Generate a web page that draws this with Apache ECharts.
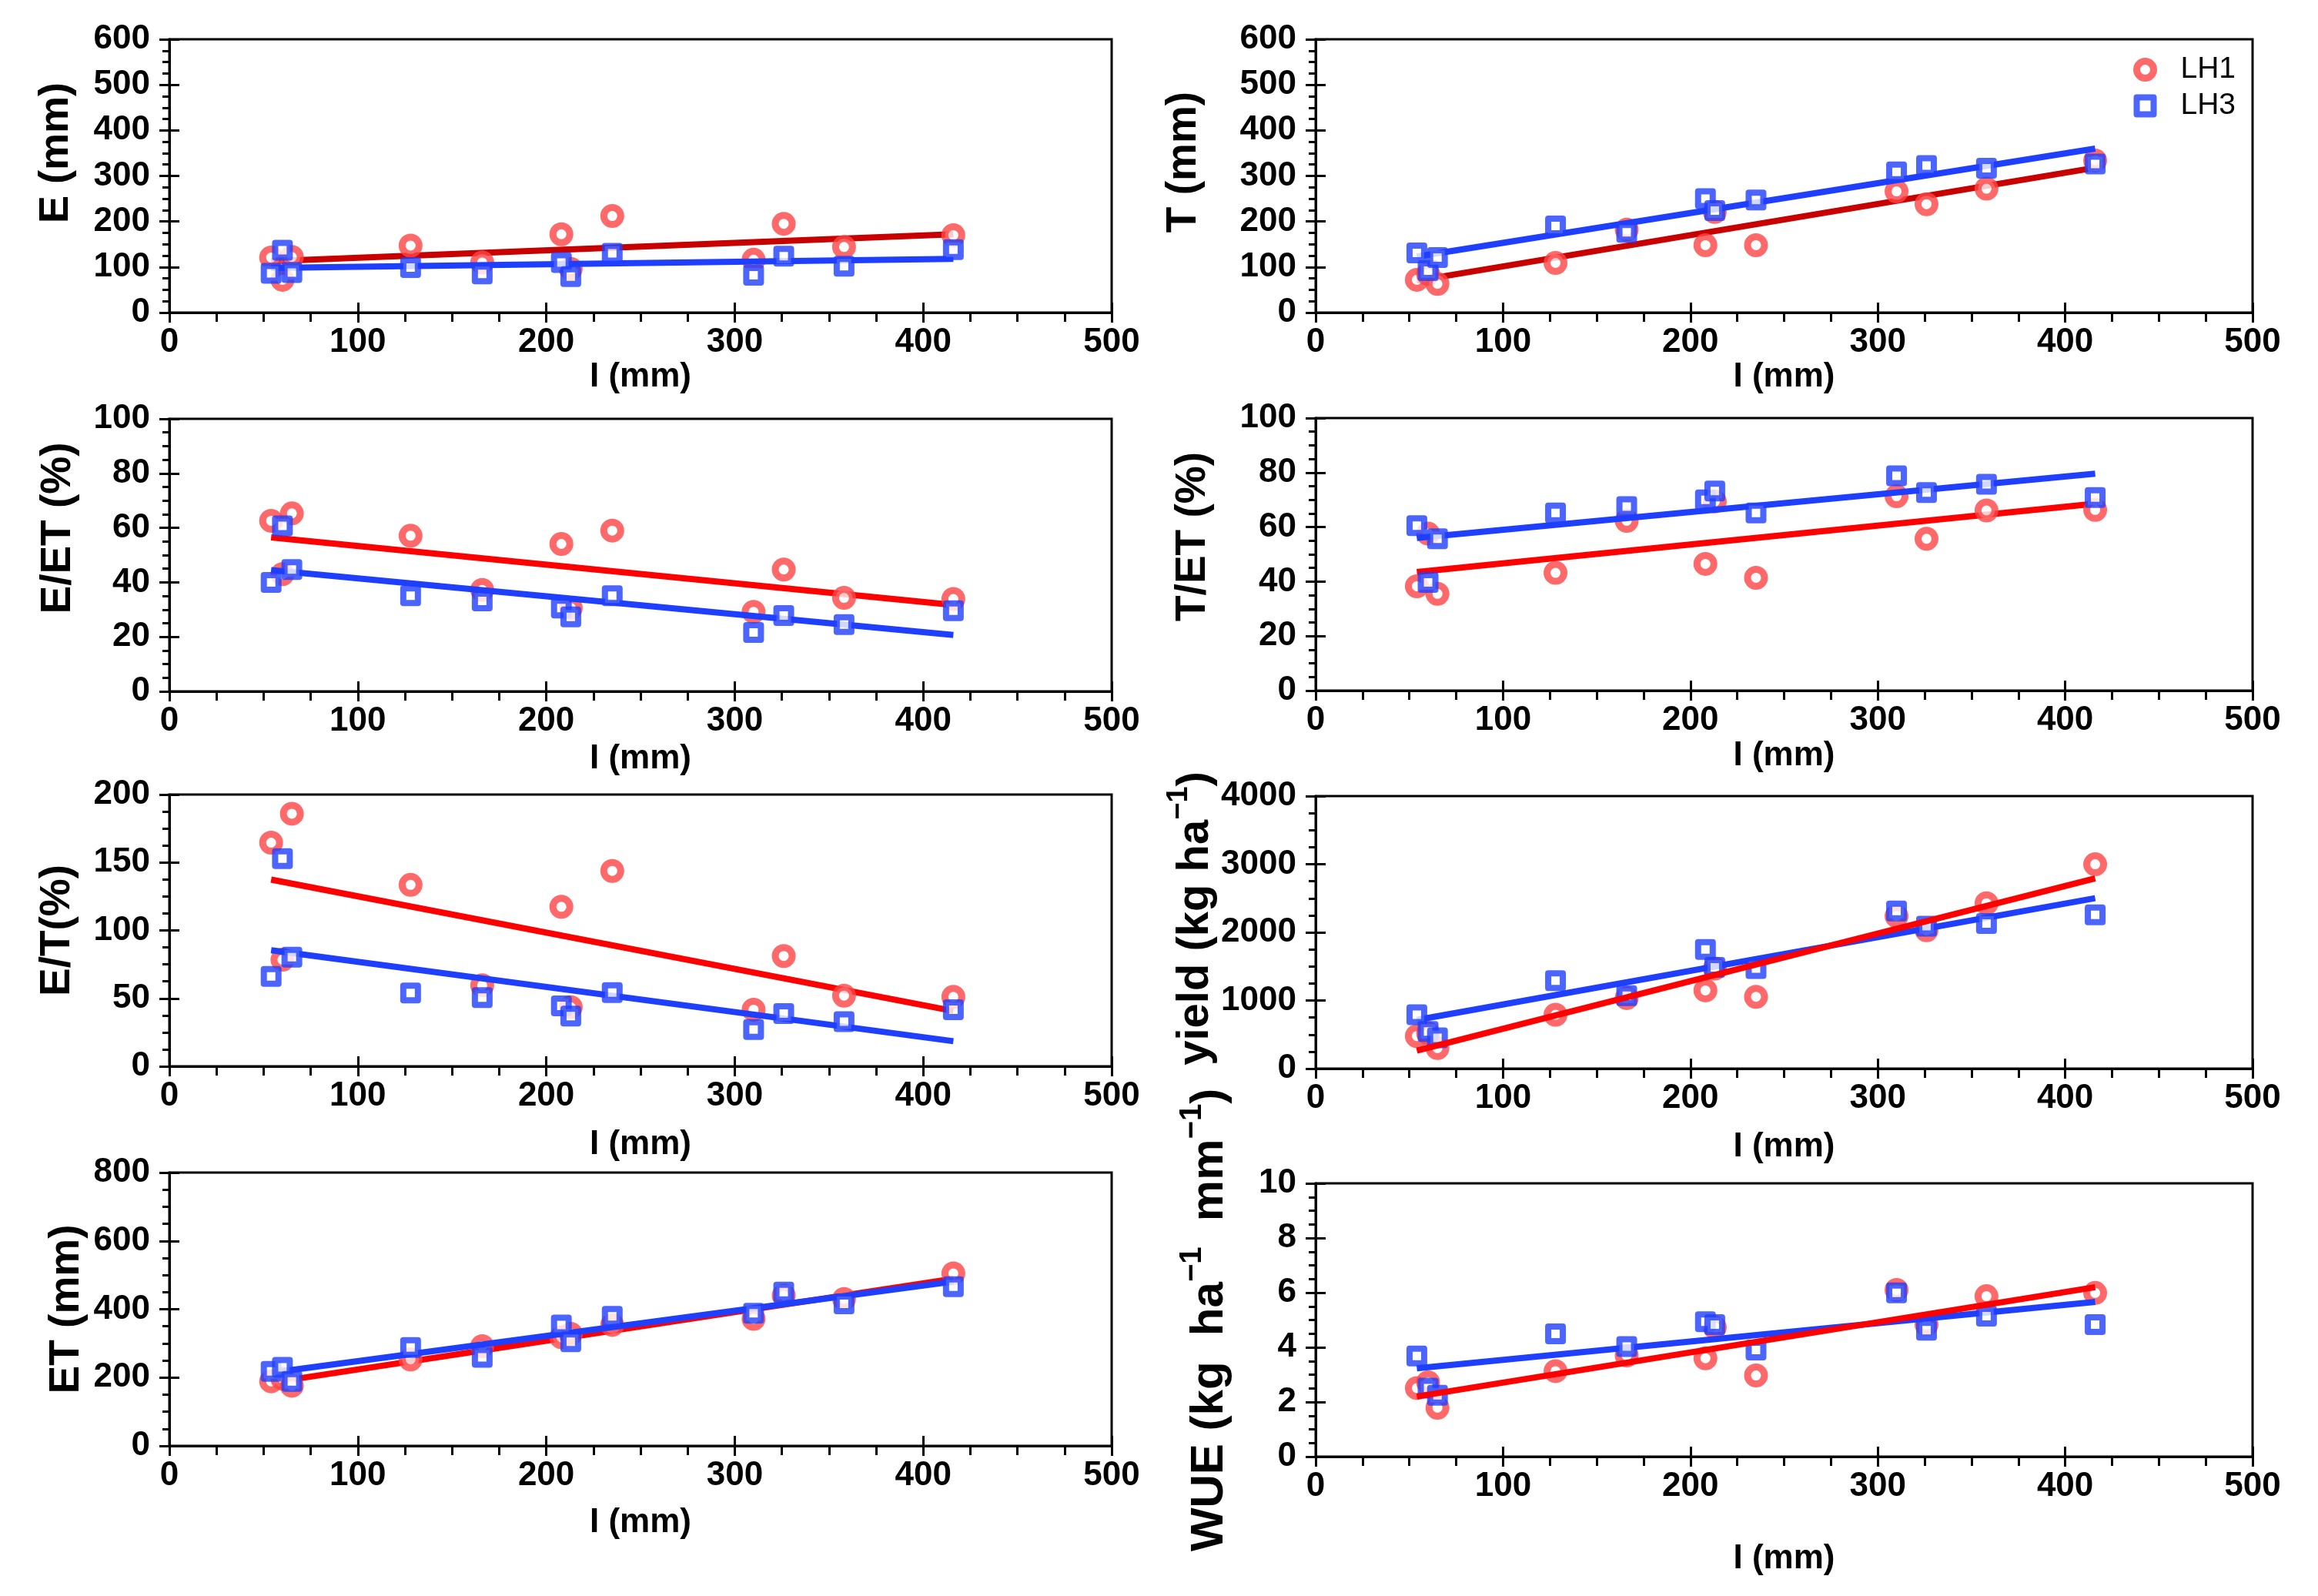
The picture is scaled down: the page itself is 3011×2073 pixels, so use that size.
<!DOCTYPE html>
<html><head><meta charset="utf-8">
<script src="https://cdn.jsdelivr.net/npm/echarts@6/dist/echarts.min.js"></script>
<style>html,body{margin:0;padding:0;background:#fff}#c{width:3011px;height:2073px}</style>
</head><body><div id="c"></div>
<script>
// ---------- data ----------
const irrigation = [54, 60, 65, 128, 166, 208, 213, 235, 310, 326, 358, 416];

const E_LH1 = [121, 72, 122, 147, 110, 172, 96, 212, 116, 195, 144, 170];
const E_LH3 = [86, 137, 88, 99, 85, 110, 79, 130, 82, 124, 102, 138];
const E_FIT_LH1 = [[54, 113], [416, 172]];
const E_FIT_LH3 = [[54, 98], [416, 118]];

const T_LH1 = [72, 85, 63, 109, 182, 148, 221, 148, 266, 238, 272, 334];
const T_LH3 = [131, 92, 121, 190, 176, 250, 224, 247, 309, 323, 317, 326];
const T_FIT_LH1 = [[54, 70], [416, 318]];
const T_FIT_LH3 = [[54, 123], [416, 360]];

const EET_LH1 = [62.6, 43, 65.3, 57.1, 37.2, 54.1, 30.6, 59, 29.2, 44.7, 34.3, 33.9];
const EET_LH3 = [40, 60.7, 44.7, 35.1, 33.2, 30.6, 27.3, 35.1, 21.6, 27.8, 24.5, 29.6];
const EET_FIT_LH1 = [[54, 56.5], [416, 31.7]];
const EET_FIT_LH3 = [[54, 44.5], [416, 20.7]];

const TET_LH1 = [38.3, 57.6, 35.5, 43.2, 62.3, 46.5, 69.4, 41.4, 71.3, 55.7, 66.1, 66.3];
const TET_LH3 = [60.5, 39.7, 55.7, 65.2, 67.5, 70, 73.2, 65.2, 78.8, 72.7, 75.7, 70.8];
const TET_FIT_LH1 = [[54, 43.5], [416, 68.6]];
const TET_FIT_LH3 = [[54, 56], [416, 79.6]];

const ET_RATIO_LH1 = [164.6, 78.4, 185.9, 133.5, 59.6, 117.4, 43.5, 143.8, 41.7, 81.2, 52, 51.1];
const ET_RATIO_LH3 = [66.2, 152.9, 80.3, 53.9, 50.5, 44.5, 36.9, 54.3, 27.1, 38.8, 32.8, 41.7];
const ET_RATIO_FIT_LH1 = [[54, 137.4], [416, 40.7]];
const ET_RATIO_FIT_LH3 = [[54, 85.4], [416, 18.5]];

const YIELD_LH1 = [478, 520, 301, 790, 1035, 1148, 1468, 1054, 2239, 2032, 2427, 2999];
const YIELD_LH3 = [790, 546, 452, 1291, 1072, 1750, 1486, 1468, 2314, 2090, 2130, 2258];
const YIELD_FIT_LH1 = [[54, 263], [416, 2792]];
const YIELD_FIT_LH3 = [[54, 715], [416, 2502]];

const ET_LH1 = [189, 197, 176, 253, 292, 318, 328, 354, 372, 440, 430, 505];
const ET_LH3 = [218, 230, 189, 288, 259, 354, 305, 379, 388, 450, 416, 466];
const ET_FIT_LH1 = [[54, 185], [416, 489]];
const ET_FIT_LH3 = [[54, 214], [416, 481]];

const WUE_LH1 = [2.51, 2.72, 1.79, 3.13, 3.70, 3.60, 4.73, 2.97, 6.10, 4.83, 5.87, 5.99];
const WUE_LH3 = [3.68, 2.51, 2.25, 4.49, 4.03, 4.94, 4.83, 3.90, 5.99, 4.63, 5.14, 4.83];
const WUE_FIT_LH1 = [[54, 2.20], [416, 6.20]];
const WUE_FIT_LH3 = [[54, 3.23], [416, 5.66]];

const X_TITLE = 'I (mm)';
const SERIES_NAMES = ['LH1', 'LH3'];

// ---------- styling ----------
const FONT = '"Liberation Sans", Arial, sans-serif';
const RED_MARK = '#ff4444';
const BLUE = '#1f3fff';
const L = 220, LW = 1224, R = 1709, RW = 1217;

const panels = [
  {title: 'E (mm)', a: E_LH1, b: E_LH3, fa: E_FIT_LH1, fb: E_FIT_LH3, max: 600, iv: 100,
   left: L, width: LW, top: 51, height: 355, gap: 120, shift: 60, xGap: 51, red: '#c80000', fs: 54},
  {title: 'T (mm)', a: T_LH1, b: T_LH3, fa: T_FIT_LH1, fb: T_FIT_LH3, max: 600, iv: 100,
   left: R, width: RW, top: 51, height: 355, gap: 144, shift: 36, xGap: 51, red: '#c80000', fs: 55},
  {title: 'E/ET (%)', a: EET_LH1, b: EET_LH3, fa: EET_FIT_LH1, fb: EET_FIT_LH3, max: 100, iv: 20,
   left: L, width: LW, top: 544, height: 354, gap: 117, shift: 70, xGap: 66, red: '#ff0000', fs: 55},
  {title: 'T/ET (%)', a: TET_LH1, b: TET_LH3, fa: TET_FIT_LH1, fb: TET_FIT_LH3, max: 100, iv: 20,
   left: R, width: RW, top: 543, height: 354, gap: 132, shift: 46, xGap: 63, red: '#ff0000', fs: 55},
  {title: 'E/T(%)', a: ET_RATIO_LH1, b: ET_RATIO_LH3, fa: ET_RATIO_FIT_LH1, fb: ET_RATIO_FIT_LH3, max: 200, iv: 50,
   left: L, width: LW, top: 1032, height: 353, gap: 118, shift: 0, xGap: 80, red: '#ff0000', fs: 55},
  {title: '{a|yield (kg ha}{s|\u22121}{a|)}', a: YIELD_LH1, b: YIELD_LH3, fa: YIELD_FIT_LH1, fb: YIELD_FIT_LH3, max: 4000, iv: 1000,
   left: R, width: RW, top: 1034, height: 354, gap: 125, shift: 36, xGap: 80, red: '#ff0000', fs: 58, sup: 38, redTop: true},
  {title: 'ET (mm)', a: ET_LH1, b: ET_LH3, fa: ET_FIT_LH1, fb: ET_FIT_LH3, max: 800, iv: 200,
   left: L, width: LW, top: 1523, height: 355, gap: 106, shift: 0, xGap: 78, red: '#ff0000', fs: 55},
  {title: '{a|WUE (kg  ha}{s|\u22121}{a|  mm}{s|\u22121}{a|)}', a: WUE_LH1, b: WUE_LH3, fa: WUE_FIT_LH1, fb: WUE_FIT_LH3, max: 10, iv: 2,
   left: R, width: RW, top: 1537, height: 355, gap: 108, shift: 0, xGap: 111, red: '#ff0000', fs: 60, sup: 40, redTop: true}
];

const grids = [], xAxes = [], yAxes = [], series = [];
const tickLine = {color: '#000', width: 3};
const plain = v => String(v);

panels.forEach((p, i) => {
  grids.push({left: p.left, top: p.top, width: p.width, height: p.height, show: true,
    borderColor: '#000', borderWidth: 3, backgroundColor: 'transparent', containLabel: false});

  const xi = xAxes.length;
  xAxes.push({gridIndex: i, type: 'value', position: 'bottom', min: 0, max: 500, interval: 100,
    name: X_TITLE, nameLocation: 'middle', nameGap: p.xGap,
    nameTextStyle: {fontFamily: FONT, fontWeight: 'bold', fontSize: 44, color: '#000'},
    axisLine: {show: true, onZero: false, lineStyle: tickLine},
    axisTick: {show: true, inside: false, length: 13, lineStyle: tickLine},
    minorTick: {show: true, splitNumber: 4, length: 12, lineStyle: tickLine},
    axisLabel: {fontFamily: FONT, fontWeight: 'bold', fontSize: 44, color: '#000', margin: 17, formatter: plain},
    splitLine: {show: false}, minorSplitLine: {show: false}});
  xAxes.push({gridIndex: i, type: 'value', position: 'bottom', min: 0, max: 500, interval: 100,
    axisLine: {show: false, onZero: false},
    axisTick: {show: true, inside: true, length: 13, lineStyle: tickLine},
    axisLabel: {show: false}, splitLine: {show: false}});

  const yi = yAxes.length;
  const supSize = p.sup || 36;
  yAxes.push({gridIndex: i, type: 'value', position: 'left', min: 0, max: p.max, interval: p.iv,
    name: p.title, nameLocation: 'middle', nameGap: p.gap,
    nameTextStyle: {fontFamily: FONT, fontWeight: 'bold', fontSize: p.fs, color: '#000',
      padding: [0, 0, 0, p.shift],
      rich: {
        a: {fontFamily: FONT, fontWeight: 'bold', fontSize: p.fs, color: '#000', lineHeight: p.fs + 12, verticalAlign: 'bottom'},
        s: {fontFamily: FONT, fontWeight: 'bold', fontSize: supSize, color: '#000', lineHeight: p.fs + 12, verticalAlign: 'top'}
      }},
    axisLine: {show: true, onZero: false, lineStyle: tickLine},
    axisTick: {show: true, inside: false, length: 13, lineStyle: tickLine},
    minorTick: {show: true, splitNumber: 4, length: 9, lineStyle: tickLine},
    axisLabel: {fontFamily: FONT, fontWeight: 'bold', fontSize: 44, color: '#000', margin: 25, formatter: plain},
    splitLine: {show: false}, minorSplitLine: {show: false}});
  yAxes.push({gridIndex: i, type: 'value', position: 'left', min: 0, max: p.max, interval: p.iv,
    axisLine: {show: false, onZero: false},
    axisTick: {show: true, inside: true, length: 13, lineStyle: tickLine},
    axisLabel: {show: false}, splitLine: {show: false}});

  const redZ = p.redTop ? 5 : 1;
  series.push({type: 'line', name: 'LH1 fit', xAxisIndex: xi, yAxisIndex: yi, data: p.fa,
    symbol: 'none', silent: true, lineStyle: {color: p.red, width: 8}, z: redZ});
  series.push({type: 'scatter', name: SERIES_NAMES[0], xAxisIndex: xi, yAxisIndex: yi,
    data: irrigation.map((x, k) => [x, p.a[k]]), symbol: 'circle', symbolSize: 22,
    itemStyle: {color: '#fff', borderColor: RED_MARK, borderWidth: 9}, z: 2});
  series.push({type: 'line', name: 'LH3 fit', xAxisIndex: xi, yAxisIndex: yi, data: p.fb,
    symbol: 'none', silent: true, lineStyle: {color: BLUE, width: 8}, z: 3});
  series.push({type: 'scatter', name: SERIES_NAMES[1], xAxisIndex: xi, yAxisIndex: yi,
    data: irrigation.map((x, k) => [x, p.b[k]]), symbol: 'rect', symbolSize: 19,
    itemStyle: {color: '#fff', borderColor: BLUE, borderWidth: 8, borderJoin: 'round'}, z: 4});
});

const chart = echarts.init(document.getElementById('c'), null, {renderer: 'canvas'});
chart.setOption({
  backgroundColor: '#fff',
  animation: false,
  grid: grids, xAxis: xAxes, yAxis: yAxes, series: series,
  legend: {
    left: 2766, top: 66, orient: 'vertical', itemGap: 8, itemWidth: 22, itemHeight: 22,
    selectedMode: false,
    textStyle: {fontFamily: FONT, fontSize: 39, color: '#000', padding: [0, 0, 0, 30]},
    data: [
      {name: SERIES_NAMES[0], icon: 'circle', itemStyle: {color: '#fff', borderColor: RED_MARK, borderWidth: 9}},
      {name: SERIES_NAMES[1], icon: 'rect', itemStyle: {color: '#fff', borderColor: BLUE, borderWidth: 8}}
    ]
  }
});
</script>
</body></html>
